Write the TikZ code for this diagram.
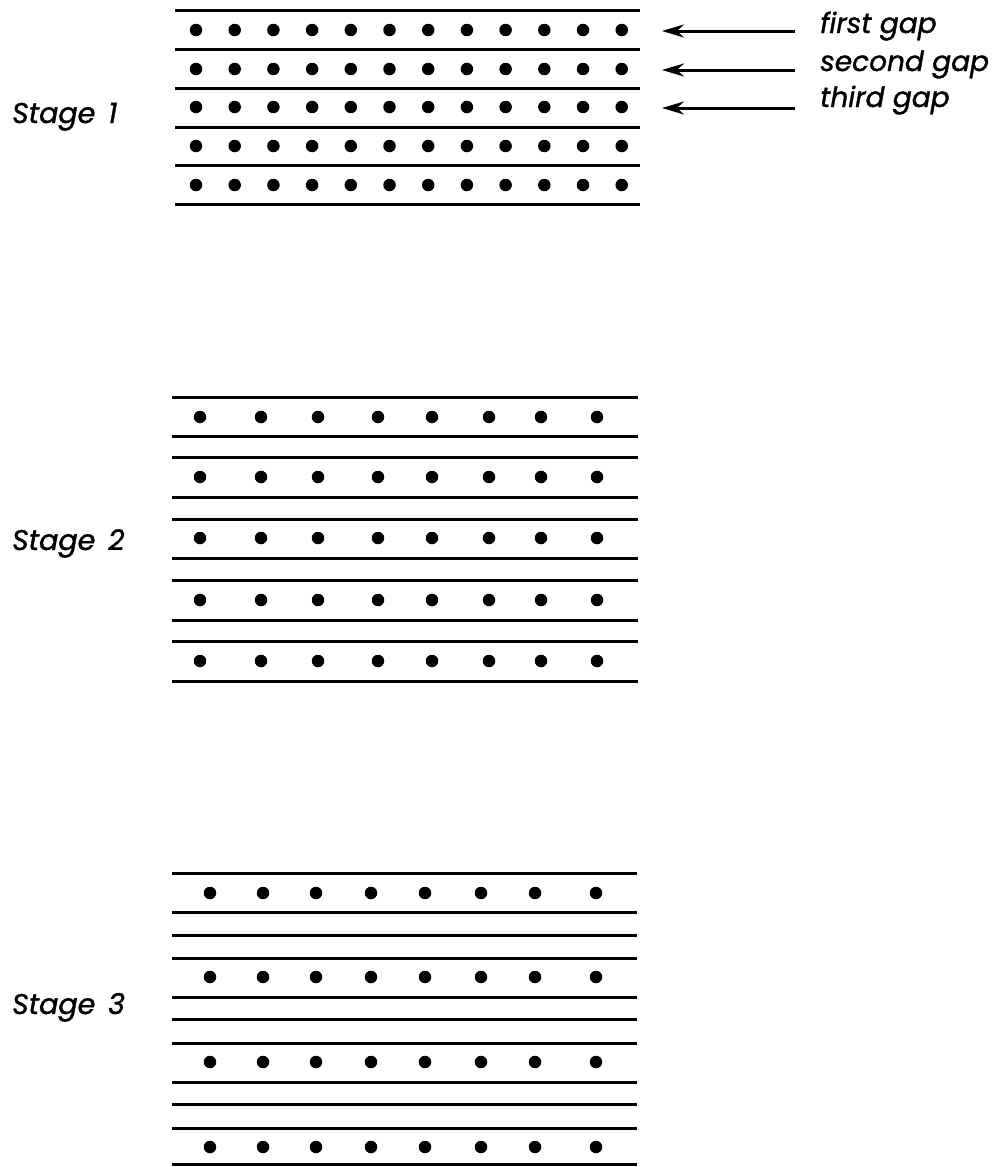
\documentclass[tikz,border=0pt]{standalone}
\usepackage{fontspec}
\setmainfont{Poppins}
\newfontfamily\lblfont[ItalicFeatures={FakeBold=1.2}]{Poppins}
\usetikzlibrary{arrows.meta}
\newcommand{\gp}{\hspace{0.45em}}
\begin{document}
\begin{tikzpicture}[x=1pt,y=-1pt,
  rule/.style={line width=3pt},
  dotc/.style={circle,fill=black,inner sep=0pt,minimum size=12.5pt},
  arr/.style={line width=3pt,-{Stealth[length=22pt,width=13pt]}},
  lbl/.style={font=\fontsize{28.5}{32}\lblfont\itshape,inner sep=0pt},
  gaplbl/.style={font=\fontsize{28}{32}\lblfont\itshape,inner sep=0pt}]
\useasboundingbox (0,0) rectangle (996,1167);

% ---------- Stage 1 ----------
\foreach \y in {10,49,88,127,165,204}
  \draw[rule] (175,\y) -- (640,\y);
\foreach \r/\y in {1/30,2/69,3/107,4/146,5/185}
  \foreach \i in {0,...,11}
    \node[dotc] (sa\r-\i) at ({196+38.7*\i},\y) {};
\node[lbl,anchor=base west] (st1) at (12,123) {Stage\gp1};

% gap labels and arrows
\node[gaplbl,anchor=base west] (g1) at (820,33) {first gap};
\node[gaplbl,anchor=base west] (g2) at (820,71) {second gap};
\node[gaplbl,anchor=base west] (g3) at (820,107) {third gap};
\coordinate (t1) at (795,31); \coordinate (h1) at (662,31);
\coordinate (t2) at (795,70); \coordinate (h2) at (662,70);
\coordinate (t3) at (795,108); \coordinate (h3) at (662,108);
\draw[arr] (t1) -- (h1);
\draw[arr] (t2) -- (h2);
\draw[arr] (t3) -- (h3);

% ---------- Stage 2 ----------
\foreach \y in {397,436,457,497,519,558,580,620,641,681}
  \draw[rule] (172,\y) -- (638,\y);
\foreach \r/\y in {1/417,2/477,3/538,4/600,5/661}
  \foreach \i/\x in {0/200,1/261,2/318,3/378,4/432,5/489,6/541,7/597}
    \node[dotc] (sb\r-\i) at (\x,\y) {};
\node[lbl,anchor=base west] (st2) at (12,550) {Stage\gp2};

% ---------- Stage 3 ----------
\foreach \y in {873,912,935,958,997,1019,1043,1082,1104,1128,1164.5}
  \draw[rule] (172,\y) -- (637,\y);
\foreach \r/\y in {1/893,2/977,3/1062,4/1147}
  \foreach \i/\x in {0/210,1/263,2/316,3/371,4/425,5/481,6/535,7/596}
    \node[dotc] (sc\r-\i) at (\x,\y) {};
\node[lbl,anchor=base west] (st3) at (12,1014) {Stage\gp3};
\end{tikzpicture}
\end{document}
